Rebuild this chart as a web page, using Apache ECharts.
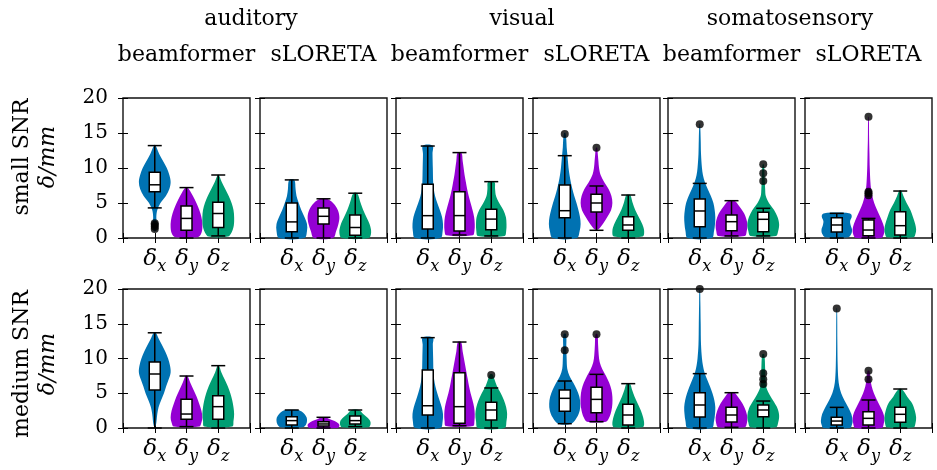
<!DOCTYPE html>
<html><head><meta charset="utf-8">
<script src="https://cdn.jsdelivr.net/npm/echarts@6/dist/echarts.min.js"></script>
<style>html,body{margin:0;padding:0;background:#fff}#c{width:937px;height:470px}</style>
</head><body><div id="c"></div>
<script>
// ---------- data ----------
const components = ['x', 'y', 'z'];
const modalities = ['auditory', 'visual', 'somatosensory'];
const methods = ['beamformer', 'sLORETA'];
const snrRows = ['small SNR', 'medium SNR'];
const yUnit = 'δ/mm';
const yMin = 0, yMax = 20, yStep = 5;

// box stats per panel (aud-bf, aud-sL, vis-bf, vis-sL, som-bf, som-sL), per component: [low, q1, median, q3, high]
const boxSmall = [
  [[4.3, 6.6, 7.6, 9.4, 13.2], [0, 1.1, 2.8, 4.57, 7.2], [0.3, 1.5, 3.5, 5.1, 9.0]],
  [[0, 0.9, 2.3, 5.0, 8.3], [0, 2.0, 3.1, 4.3, 5.6], [0, 0.4, 1.5, 3.3, 6.4]],
  [[0, 1.29, 3.19, 7.67, 13.14], [0.43, 1.0, 3.2, 6.6, 12.2], [0.3, 1.19, 2.7, 4.1, 8.05]],
  [[0, 2.9, 3.9, 7.57, 11.76], [1.1, 3.71, 5.0, 6.24, 7.43], [0, 1.1, 1.86, 3.05, 6.14]],
  [[0, 1.62, 3.86, 5.57, 7.8], [0.3, 1.05, 2.33, 3.29, 5.33], [0.3, 0.9, 2.67, 3.67, 4.24]],
  [[0, 0.86, 1.86, 2.9, 3.52], [0, 0.33, 1.14, 2.57, 2.8], [0, 0.43, 1.76, 3.76, 6.71]]
];
const boxMedium = [
  [[0, 5.47, 7.77, 9.5, 13.7], [0.2, 1.25, 2.01, 4.12, 7.48], [0, 1.25, 3.07, 4.65, 8.97]],
  [[0, 0.43, 1.06, 1.63, 2.59], [0, 0.29, 0.58, 0.91, 1.54], [0.2, 0.58, 1.06, 1.73, 2.59]],
  [[0, 1.87, 3.2, 8.35, 13.0], [0.34, 0.67, 3.07, 7.96, 12.37], [0, 1.15, 2.59, 3.69, 5.76]],
  [[0.62, 2.4, 4.27, 5.47, 6.76], [0.91, 2.21, 4.12, 5.85, 7.72], [0, 0.43, 1.87, 3.4, 6.38]],
  [[0, 1.58, 3.31, 5.08, 7.82], [0.1, 0.86, 1.87, 2.97, 5.08], [0, 1.63, 2.59, 3.31, 3.88]],
  [[0, 0.43, 1.0, 1.54, 2.97], [0, 0.43, 1.39, 2.35, 4.03], [0, 0.82, 1.97, 2.97, 5.61]]
];

// outliers per panel, per component
const outSmall = [
  [[1.3, 1.6, 1.9, 2.1], [], []],
  [[], [], []],
  [[], [], []],
  [[14.86], [12.9], []],
  [[16.24], [], [8.14, 9.24, 10.52]],
  [[], [6.1, 6.4, 6.6, 17.33], []]
];
const outMedium = [
  [[], [], []],
  [[], [], []],
  [[], [], [7.63]],
  [[11.18, 13.48], [13.48], []],
  [[20.0], [], [6.33, 7.0, 7.87, 10.65]],
  [[17.2], [7.0, 8.25], []]
];

// violin profiles: [value, half width in category units], bottom to top
const violinSmall = [
  [
    [[1.0, 0.03], [2, 0.06], [3, 0.05], [4, 0.08], [5, 0.18], [6, 0.35], [7, 0.46], [8, 0.5], [9, 0.46], [10, 0.38], [11, 0.26], [12, 0.14], [13, 0.05], [13.3, 0.01]],
    [[0.1, 0.35], [0.6, 0.46], [1.5, 0.5], [2.5, 0.49], [3.5, 0.44], [4.5, 0.36], [5.5, 0.26], [6.5, 0.14], [7.2, 0.03]],
    [[0.2, 0.3], [0.8, 0.42], [1.8, 0.49], [3, 0.5], [4, 0.48], [5, 0.42], [6, 0.33], [7, 0.22], [8, 0.11], [9, 0.02]]
  ],
  [
    [[0, 0.4], [1, 0.48], [2, 0.48], [3, 0.4], [4, 0.3], [5, 0.22], [6, 0.15], [7, 0.12], [8.3, 0.08]],
    [[0, 0.3], [1, 0.4], [2, 0.47], [3, 0.5], [4, 0.45], [5, 0.3], [5.6, 0.1]],
    [[0, 0.42], [0.8, 0.5], [2, 0.45], [3, 0.35], [4, 0.25], [5, 0.17], [6.4, 0.06]]
  ],
  [
    [[0, 0.4], [1, 0.47], [2, 0.48], [3, 0.45], [4, 0.38], [5, 0.3], [6, 0.23], [7, 0.19], [8, 0.17], [10, 0.16], [12, 0.15], [13.2, 0.15]],
    [[0.4, 0.42], [1, 0.47], [2, 0.48], [3, 0.46], [4, 0.41], [5, 0.35], [6, 0.29], [7, 0.24], [8, 0.2], [9, 0.16], [10, 0.13], [11, 0.1], [12.2, 0.06]],
    [[0.3, 0.42], [1, 0.47], [2, 0.48], [3, 0.46], [4, 0.38], [5, 0.25], [6, 0.15], [7, 0.12], [8, 0.1]]
  ],
  [
    [[0, 0.38], [1, 0.47], [2, 0.5], [3, 0.48], [4, 0.43], [5, 0.37], [6, 0.3], [7, 0.24], [8, 0.19], [9, 0.15], [10, 0.12], [11, 0.1], [12, 0.08], [13, 0.06], [14, 0.05], [15, 0.02]],
    [[1.2, 0.05], [2, 0.2], [3, 0.34], [4, 0.46], [5, 0.5], [6, 0.47], [7, 0.38], [8, 0.24], [9, 0.13], [10, 0.08], [11, 0.06], [12, 0.04], [12.9, 0.02]],
    [[0.2, 0.45], [1, 0.5], [2, 0.44], [3, 0.33], [4, 0.22], [5, 0.14], [6, 0.08], [6.2, 0.04]]
  ],
  [
    [[0, 0.38], [1, 0.45], [2, 0.48], [3, 0.49], [4, 0.47], [5, 0.43], [6, 0.35], [7, 0.25], [8, 0.16], [9, 0.1], [10, 0.07], [12, 0.04], [14, 0.03], [16.3, 0.01]],
    [[0.3, 0.42], [1, 0.48], [1.8, 0.5], [2.5, 0.48], [3.5, 0.4], [4.5, 0.25], [5.3, 0.1]],
    [[0.3, 0.4], [1, 0.47], [2, 0.5], [3, 0.45], [4, 0.34], [5, 0.18], [6, 0.08], [7, 0.06], [8, 0.05], [9, 0.04], [10.5, 0.02]]
  ],
  [
    [[0.1, 0.36], [0.6, 0.46], [1.2, 0.48], [1.8, 0.44], [2.4, 0.42], [3.0, 0.47], [3.4, 0.45], [3.6, 0.3]],
    [[0, 0.4], [0.5, 0.48], [1.2, 0.5], [2, 0.46], [3, 0.37], [4, 0.27], [5, 0.18], [6, 0.12], [7, 0.08], [8, 0.06], [10, 0.04], [12, 0.03], [14, 0.02], [17.3, 0.01]],
    [[0.1, 0.42], [0.6, 0.48], [1.2, 0.5], [2, 0.47], [3, 0.4], [4, 0.32], [5, 0.2], [6, 0.1], [6.8, 0.03]]
  ]
];
const violinMedium = [
  [
    [[0.3, 0.03], [2, 0.08], [3, 0.12], [4, 0.2], [5, 0.29], [6, 0.36], [7, 0.44], [8, 0.5], [9, 0.48], [10, 0.42], [11, 0.33], [12, 0.22], [13, 0.11], [13.7, 0.03]],
    [[0.2, 0.4], [0.8, 0.47], [1.5, 0.5], [2.5, 0.47], [3.5, 0.4], [4.5, 0.32], [5.5, 0.22], [6.5, 0.12], [7.5, 0.03]],
    [[0.2, 0.44], [1, 0.48], [2, 0.5], [3, 0.48], [4, 0.44], [5, 0.38], [6, 0.3], [7, 0.2], [8, 0.1], [9, 0.02]]
  ],
  [
    [[0.1, 0.35], [0.5, 0.45], [1, 0.48], [1.5, 0.47], [2, 0.4], [2.4, 0.3], [2.6, 0.2]],
    [[0, 0.44], [0.3, 0.5], [0.6, 0.48], [1, 0.35], [1.3, 0.18], [1.5, 0.06]],
    [[0.1, 0.42], [0.5, 0.48], [1, 0.47], [1.5, 0.38], [2, 0.25], [2.6, 0.12]]
  ],
  [
    [[0, 0.4], [1, 0.47], [2, 0.48], [3, 0.44], [4, 0.37], [5, 0.3], [6, 0.24], [7, 0.2], [8, 0.18], [10, 0.17], [12, 0.16], [13, 0.16]],
    [[0.3, 0.43], [1, 0.47], [2, 0.48], [3, 0.46], [4, 0.41], [5, 0.35], [6, 0.3], [7, 0.26], [8, 0.22], [9, 0.18], [10, 0.14], [11, 0.1], [12.4, 0.05]],
    [[0, 0.42], [1, 0.48], [2, 0.5], [3, 0.47], [4, 0.4], [5, 0.3], [6, 0.18], [7, 0.1], [7.7, 0.04]]
  ],
  [
    [[0.6, 0.2], [1.5, 0.38], [2.5, 0.47], [3.5, 0.49], [4.5, 0.46], [5.5, 0.38], [6.5, 0.27], [7.5, 0.15], [8.5, 0.08], [10, 0.06], [11.5, 0.05], [13.5, 0.04]],
    [[0.9, 0.3], [1.5, 0.4], [2.5, 0.47], [3.5, 0.5], [4.5, 0.5], [5.5, 0.47], [6.5, 0.4], [7.5, 0.3], [8.5, 0.18], [9.5, 0.1], [10.5, 0.07], [12, 0.05], [13.5, 0.03]],
    [[0.1, 0.45], [0.5, 0.5], [1.5, 0.47], [2.5, 0.4], [3.5, 0.3], [4.5, 0.2], [5.5, 0.12], [6.4, 0.05]]
  ],
  [
    [[0, 0.38], [1, 0.45], [2, 0.48], [3, 0.49], [4, 0.46], [5, 0.4], [6, 0.32], [7, 0.23], [8, 0.15], [9, 0.1], [10, 0.07], [12, 0.04], [15, 0.03], [18, 0.02], [20, 0.01]],
    [[0.1, 0.42], [0.6, 0.48], [1.5, 0.5], [2.5, 0.45], [3.5, 0.35], [4.5, 0.2], [5.1, 0.08]],
    [[0.1, 0.4], [0.8, 0.47], [1.8, 0.5], [2.8, 0.45], [3.8, 0.33], [4.8, 0.2], [5.8, 0.1], [7, 0.07], [8.5, 0.06], [10.6, 0.03]]
  ],
  [
    [[0, 0.42], [0.5, 0.48], [1, 0.5], [2, 0.46], [3, 0.36], [4, 0.24], [5, 0.14], [6, 0.08], [7, 0.05], [9, 0.03], [12, 0.02], [17.2, 0.01]],
    [[0, 0.42], [0.6, 0.48], [1.4, 0.5], [2.2, 0.46], [3, 0.38], [4, 0.27], [5, 0.17], [6, 0.1], [7, 0.06], [8.2, 0.03]],
    [[0.1, 0.42], [0.7, 0.48], [1.5, 0.5], [2.5, 0.46], [3.5, 0.38], [4.5, 0.22], [5.6, 0.05]]
  ]
];

// ---------- build ----------
const boxRows = [boxSmall, boxMedium];
const outRows = [outSmall, outMedium];
const violinRows = [violinSmall, violinMedium];
const colors = ['#0072b2', '#9400d3', '#009e73'];
const FONT = 'DejaVu Serif';

const gridLefts = [123, 260, 396, 533, 668, 805];
const gridW = 127;
const rowTops = [98, 289];
const rowH = [140, 139];

const grid = [], xAxis = [], yAxis = [], series = [];
const tick = { show: true, inside: true, length: 5, lineStyle: { color: '#000', width: 1 } };

for (let r = 0; r < 2; r++) {
  for (let c = 0; c < 6; c++) {
    const gi = r * 6 + c;
    grid.push({ left: gridLefts[c], top: rowTops[r], width: gridW, height: rowH[r],
      show: true, borderColor: '#111', borderWidth: 1.4, backgroundColor: 'transparent' });
    xAxis.push({
      gridIndex: gi, type: 'value', min: 0, max: components.length + 1, interval: 1,
      axisLine: { show: false }, splitLine: { show: false }, axisTick: tick,
      axisLabel: {
        margin: 10, showMinLabel: true, showMaxLabel: true,
        formatter: v => (v >= 1 && v <= components.length) ? '{d|δ}{s|' + components[v - 1] + '}' : '',
        rich: {
          d: { fontFamily: FONT, fontStyle: 'italic', fontSize: 23, lineHeight: 27, verticalAlign: 'top', color: '#000' },
          s: { fontFamily: FONT, fontStyle: 'italic', fontSize: 16, lineHeight: 13, verticalAlign: 'bottom', color: '#000' }
        }
      }
    });
    xAxis.push({
      gridIndex: gi, type: 'value', position: 'top', min: 0, max: components.length + 1, interval: 1,
      axisLine: { show: false }, splitLine: { show: false }, axisTick: tick, axisLabel: { show: false }
    });
    yAxis.push({
      gridIndex: gi, type: 'value', min: yMin, max: yMax, interval: yStep,
      axisLine: { show: false }, splitLine: { show: false }, axisTick: tick,
      axisLabel: { show: c === 0, margin: 15, fontFamily: FONT, fontSize: 20, color: '#000' }
    });
    yAxis.push({
      gridIndex: gi, type: 'value', position: 'right', min: yMin, max: yMax, interval: yStep,
      axisLine: { show: false }, splitLine: { show: false }, axisTick: tick, axisLabel: { show: false }
    });
    const xa = gi * 2, ya = gi * 2;
    const prof = violinRows[r][c];
    series.push({
      type: 'custom', xAxisIndex: xa, yAxisIndex: ya, z: 2, silent: true,
      data: components.map((k, i) => [i + 1, 0]),
      renderItem: (params, api) => {
        const x = api.value(0);
        const p = prof[params.dataIndex];
        const pts = [];
        for (let i = 0; i < p.length; i++) pts.push(api.coord([x - p[i][1], p[i][0]]));
        for (let i = p.length - 1; i >= 0; i--) pts.push(api.coord([x + p[i][1], p[i][0]]));
        return { type: 'polygon', shape: { points: pts, smooth: 0.35 },
          style: { fill: colors[params.dataIndex], stroke: null } };
      }
    });
    series.push({
      type: 'custom', xAxisIndex: xa, yAxisIndex: ya, z: 3, silent: true,
      data: boxRows[r][c].map((s, i) => [i + 1].concat(s)),
      renderItem: (params, api) => {
        const x = api.value(0);
        const lo = api.coord([x, api.value(1)]), q1 = api.coord([x, api.value(2)]),
          md = api.coord([x, api.value(3)]), q3 = api.coord([x, api.value(4)]), hi = api.coord([x, api.value(5)]);
        const bw = 5.5, cw = 7;
        const ls = { stroke: '#000', lineWidth: 1.5 };
        return { type: 'group', children: [
          { type: 'line', shape: { x1: lo[0], y1: lo[1], x2: hi[0], y2: hi[1] }, style: ls },
          { type: 'line', shape: { x1: lo[0] - cw, y1: lo[1], x2: lo[0] + cw, y2: lo[1] }, style: ls },
          { type: 'line', shape: { x1: hi[0] - cw, y1: hi[1], x2: hi[0] + cw, y2: hi[1] }, style: ls },
          { type: 'rect', shape: { x: q3[0] - bw, y: q3[1], width: 2 * bw, height: q1[1] - q3[1] },
            style: { fill: '#fff', stroke: '#000', lineWidth: 1.5 } },
          { type: 'line', shape: { x1: md[0] - bw, y1: md[1], x2: md[0] + bw, y2: md[1] }, style: ls }
        ] };
      }
    });
    const pts = [];
    outRows[r][c].forEach((arr, i) => arr.forEach(v => pts.push([i + 1, v])));
    series.push({
      type: 'scatter', xAxisIndex: xa, yAxisIndex: ya, z: 4, silent: true, clip: false,
      symbol: 'circle', symbolSize: 8, itemStyle: { color: '#000' }, data: pts
    });
  }
}

const graphic = [];
const modCenters = [251, 522, 790];
modalities.forEach((m, i) => graphic.push({ type: 'text', x: modCenters[i], y: 19,
  style: { text: m, fontFamily: FONT, fontSize: 22, fill: '#000', align: 'center', verticalAlign: 'middle' } }));
gridLefts.forEach((l, c) => graphic.push({ type: 'text', x: l + gridW / 2, y: 55,
  style: { text: methods[c % 2], fontFamily: FONT, fontSize: 22, fill: '#000', align: 'center', verticalAlign: 'middle' } }));
const rowTitleY = [157, 364];
snrRows.forEach((t, r) => {
  graphic.push({ type: 'text', x: 22, y: rowTitleY[r], rotation: Math.PI / 2,
    style: { text: t, fontFamily: FONT, fontSize: 22, fill: '#000', align: 'center', verticalAlign: 'middle' } });
  graphic.push({ type: 'text', x: 48, y: rowTitleY[r], rotation: Math.PI / 2,
    style: { text: yUnit, fontFamily: FONT, fontStyle: 'italic', fontSize: 22, fill: '#000', align: 'center', verticalAlign: 'middle' } });
});

const chart = echarts.init(document.getElementById('c'), null, { renderer: 'canvas' });
chart.setOption({ animation: false, backgroundColor: '#fff', grid, xAxis, yAxis, series, graphic });
</script></body></html>
